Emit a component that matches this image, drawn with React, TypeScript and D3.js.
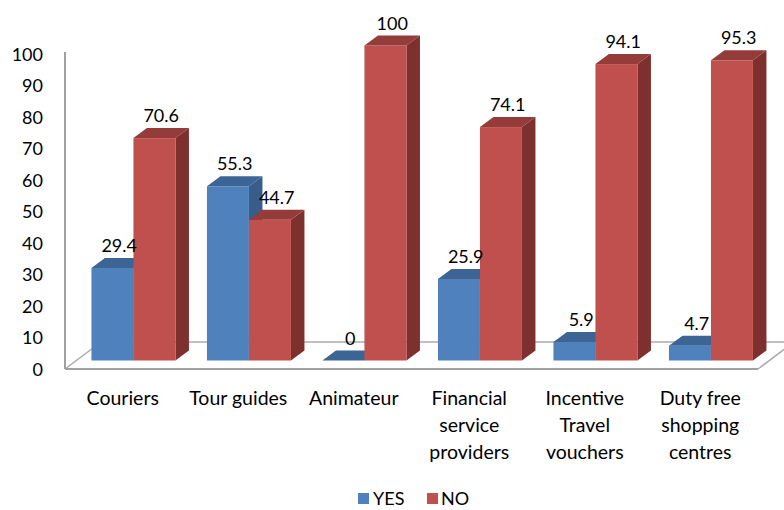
import React from "react";
import * as d3 from "d3";

const categories = ["Couriers", "Tour guides", "Animateur", "Financial service providers", "Incentive Travel vouchers", "Duty free shopping centres"];
const categoryLines = [["Couriers"], ["Tour guides"], ["Animateur"], ["Financial", "service", "providers"], ["Incentive", "Travel", "vouchers"], ["Duty free", "shopping", "centres"]];
const seriesNames = ["YES", "NO"];
const yesValues = [29.4, 55.3, 0, 25.9, 5.9, 4.7];
const noValues = [70.6, 44.7, 100, 74.1, 94.1, 95.3];
const yTicks = [0, 10, 20, 30, 40, 50, 60, 70, 80, 90, 100];

const colors = {
  YES: { front: "#4F81BD", top: "#3C6494", side: "#385D8A" },
  NO: { front: "#C0504D", top: "#943C3A", side: "#7E302E" },
};

const FONT = "Lato, 'Open Sans', sans-serif";

export default function App() {
  const W = 784, H = 510;
  const x0 = 65, x1 = 758;
  const floorDepth = { dx: 36, dy: -27 };
  const barOff = { dx: 10.7, dy: -8 };
  const barDepth = { dx: 13.5, dy: -10 };

  const x = d3.scaleBand<string>().domain(categories).range([x0, x1]).paddingInner(0).paddingOuter(0);
  const xs = d3.scaleBand<string>().domain(seriesNames).range([0, x.bandwidth()]).paddingInner(0).paddingOuter(0.375);
  const y = d3.scaleLinear().domain([0, 100]).range([368.5, 53.5]);

  const series = [
    { name: "YES", values: yesValues },
    { name: "NO", values: noValues },
  ];

  const bars: JSX.Element[] = [];
  const labels: JSX.Element[] = [];
  categories.forEach((c, i) => {
    series.forEach((s) => {
      const v = s.values[i];
      const col = (colors as any)[s.name];
      const bx0 = (x(c) as number) + (xs(s.name) as number) + barOff.dx;
      const bx1 = bx0 + xs.bandwidth();
      const yb = y(0) + barOff.dy;
      const yt = y(v) + barOff.dy;
      const dx = barDepth.dx, dy = barDepth.dy;
      const pts = (arr: number[][]) => arr.map((p) => p.join(",")).join(" ");
      bars.push(
        <g key={c + s.name}>
          {v > 0 && (
            <polygon
              points={pts([[bx1, yt], [bx1 + dx, yt + dy], [bx1 + dx, yb + dy], [bx1, yb]])}
              fill={col.side}
            />
          )}
          {v > 0 && <rect x={bx0} y={yt} width={bx1 - bx0} height={yb - yt} fill={col.front} />}
          <polygon
            points={pts([[bx0, yt], [bx1, yt], [bx1 + dx, yt + dy], [bx0 + dx, yt + dy]])}
            fill={col.top}
          />
        </g>
      );
      labels.push(
        <text
          key={"l" + c + s.name}
          x={(bx0 + bx1) / 2 + dx / 2}
          y={yt + dy - 6}
          textAnchor="middle"
          fontSize={18}
          fontFamily={FONT}
          fill="#000"
        >
          {v}
        </text>
      );
    });
  });

  const fy = y(0) + 0.5;
  return (
    <svg width={W} height={H} style={{ position: "absolute", left: 0, top: 0 }} xmlns="http://www.w3.org/2000/svg">
      <rect width={W} height={H} fill="#fff" />
      {/* floor */}
      <line x1={x0 + floorDepth.dx} y1={fy + floorDepth.dy} x2={x1 + floorDepth.dx} y2={fy + floorDepth.dy} stroke="#ABABAB" strokeWidth={1.5} />
      <line x1={x0} y1={fy} x2={x0 + floorDepth.dx} y2={fy + floorDepth.dy} stroke="#ABABAB" strokeWidth={1.5} />
      <line x1={x1} y1={fy} x2={x1 + floorDepth.dx} y2={fy + floorDepth.dy} stroke="#ABABAB" strokeWidth={1.5} />
      <line x1={x0} y1={fy} x2={x1} y2={fy} stroke="#A0A0A0" strokeWidth={2} />
      <line x1={x0} y1={y(100) - 1.5} x2={x0} y2={fy} stroke="#A0A0A0" strokeWidth={2} />
      {bars}
      {labels}
      {yTicks.map((t) => (
        <text key={t} x={43} y={y(t)} textAnchor="end" dominantBaseline="central" fontSize={18} fontFamily={FONT} fill="#000">
          {t}
        </text>
      ))}
      {categories.map((c, i) => (
        <text key={c} x={(x(c) as number) + x.bandwidth() / 2} textAnchor="middle" fontSize={19.5} fontFamily={FONT} fill="#000">
          {categoryLines[i].map((ln, j) => (
            <tspan key={j} x={(x(c) as number) + x.bandwidth() / 2} y={405 + j * 27}>
              {ln}
            </tspan>
          ))}
        </text>
      ))}
      {/* legend */}
      <g>
        <rect x={358} y={493} width={11} height={11} fill={colors.YES.front} />
        <text x={373} y={505} fontSize={18} fontFamily={FONT} fill="#000">YES</text>
        <rect x={427} y={493} width={11} height={11} fill={colors.NO.front} />
        <text x={441} y={505} fontSize={18} fontFamily={FONT} fill="#000">NO</text>
      </g>
    </svg>
  );
}
